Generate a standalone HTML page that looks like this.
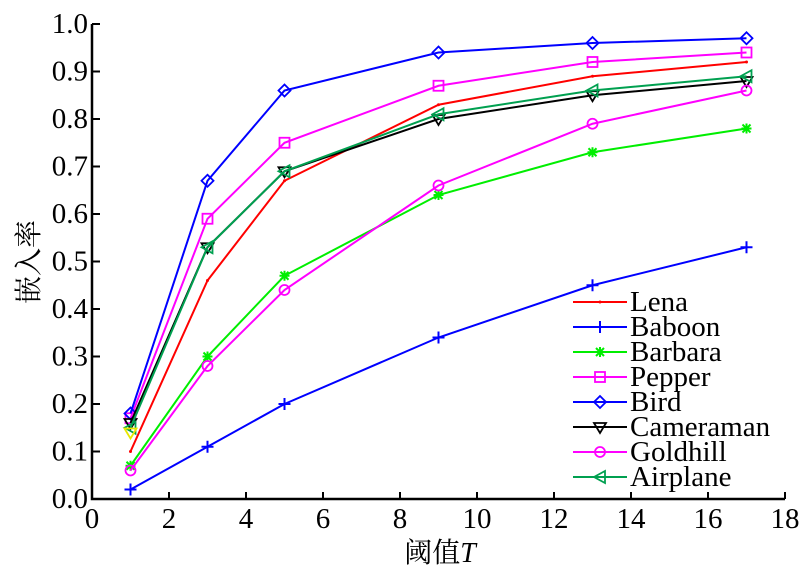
<!DOCTYPE html>
<html><head><meta charset="utf-8"><style>
body{margin:0;background:#fff}
text{font-family:"Times New Roman","Liberation Serif",Times,serif}
text.cjk{font-family:"Times New Roman","Liberation Serif","Noto Serif CJK SC",serif}
</style></head><body>
<svg id="c" width="800" height="573" viewBox="0 0 800 573"></svg>
<script>
const xs=[1,3,5,9,13,17];
const names=["Lena","Baboon","Barbara","Pepper","Bird","Cameraman","Goldhill","Airplane"];
const lena=[0.10,0.46,0.67,0.83,0.89,0.92];
const baboon=[0.02,0.11,0.20,0.34,0.45,0.53];
const barbara=[0.07,0.30,0.47,0.64,0.73,0.78];
const pepper=[0.17,0.59,0.75,0.87,0.92,0.94];
const bird=[0.18,0.67,0.86,0.94,0.96,0.97];
const cameraman=[0.16,0.53,0.69,0.80,0.85,0.88];
const goldhill=[0.06,0.28,0.44,0.66,0.79,0.86];
const airplane=[0.15,0.53,0.69,0.81,0.86,0.89];
const xTicks=[0,2,4,6,8,10,12,14,16,18];
const yTicks=[0,0.1,0.2,0.3,0.4,0.5,0.6,0.7,0.8,0.9,1.0];
const series=[lena,baboon,barbara,pepper,bird,cameraman,goldhill,airplane];
const colors=["#ff0000","#0000ff","#00ee00","#ff00ff","#0000ff","#000000","#ff00ff","#00a050"];
const marks=["dot","plus","star","square","diamond","tridown","circle","trileft"];
const X=v=>92+v*38.5, Y=v=>499-v*475;
const svg=document.getElementById('c');const NS="http://www.w3.org/2000/svg";
function mk(t,a,p){const e=document.createElementNS(NS,t);for(const k in a)e.setAttribute(k,a[k]);(p||svg).appendChild(e);return e;}
function marker(type,x,y,c,g){const s=5;let e;
 if(type==="dot")e=mk('circle',{cx:x,cy:y,r:1.5,fill:c},g);
 else if(type==="plus")e=mk('path',{d:`M${x-6} ${y}H${x+6}M${x} ${y-6}V${y+6}`,stroke:c,'stroke-width':2,fill:'none'},g);
 else if(type==="star")e=mk('path',{d:`M${x-5} ${y}H${x+5}M${x} ${y-5}V${y+5}M${x-4} ${y-4}L${x+4} ${y+4}M${x-4} ${y+4}L${x+4} ${y-4}`,stroke:c,'stroke-width':2,fill:'none'},g);
 else if(type==="square")e=mk('rect',{x:x-s,y:y-s,width:2*s,height:2*s,stroke:c,'stroke-width':1.8,fill:'none'},g);
 else if(type==="diamond")e=mk('path',{d:`M${x} ${y-6}L${x+6} ${y}L${x} ${y+6}L${x-6} ${y}Z`,stroke:c,'stroke-width':1.8,fill:'none'},g);
 else if(type==="tridown")e=mk('path',{d:`M${x-6} ${y-4}L${x+6} ${y-4}L${x} ${y+6}Z`,stroke:c,'stroke-width':1.8,fill:'none'},g);
 else if(type==="circle")e=mk('circle',{cx:x,cy:y,r:5,stroke:c,'stroke-width':1.8,fill:'none'},g);
 else e=mk('path',{d:`M${x-6} ${y}L${x+5} ${y-6}L${x+5} ${y+6}Z`,stroke:c,'stroke-width':1.8,fill:'none'},g);
 
 }
const ax=mk('path',{d:`M92 ${Y(1)}V499H${X(18)}`,stroke:'#000','stroke-width':2.5,fill:'none'});


xTicks.forEach(v=>{const t=mk('line',{x1:X(v),x2:X(v),y1:499,y2:492,stroke:'#000','stroke-width':2});
 
 
 const l=mk('text',{x:X(v),y:528,'font-size':29,'text-anchor':'middle'});l.textContent=v;
 
 });
yTicks.forEach(v=>{const t=mk('line',{x1:92,x2:100,y1:Y(v),y2:Y(v),stroke:'#000','stroke-width':2});
 
 
 const l=mk('text',{x:88,y:Y(v)+9,'font-size':29,'text-anchor':'end'});l.textContent=v.toFixed(1);
 
 });
const yl=mk('text',{x:0,y:0,'font-size':28,'text-anchor':'middle','class':'cjk',transform:'translate(38,262) rotate(-90)'});yl.textContent='嵌入率';


const xl=mk('text',{x:440,y:562,'font-size':28,'text-anchor':'middle','class':'cjk'});xl.innerHTML='阈值<tspan font-style="italic">T</tspan>';


series.forEach((s,i)=>{const g=mk('g',{});
 
 
 mk('polyline',{points:s.map((v,j)=>X(xs[j])+','+Y(v)).join(' '),fill:'none',stroke:colors[i],'stroke-width':2},g);
 s.forEach((v,j)=>marker(marks[i],X(xs[j]),Y(v),colors[i],g));});
marker('tridown',X(1),Y(0.14),'#e8e800');
names.forEach((n,i)=>{const y=302+i*25;const g=mk('g',{});
 
 
 mk('line',{x1:573,x2:627,y1:y,y2:y,stroke:colors[i],'stroke-width':2},g);
 marker(marks[i],600,y,colors[i],g);
 const t=mk('text',{x:630,y:y+9,'font-size':29},g);t.textContent=n;});
</script>
</body></html>
